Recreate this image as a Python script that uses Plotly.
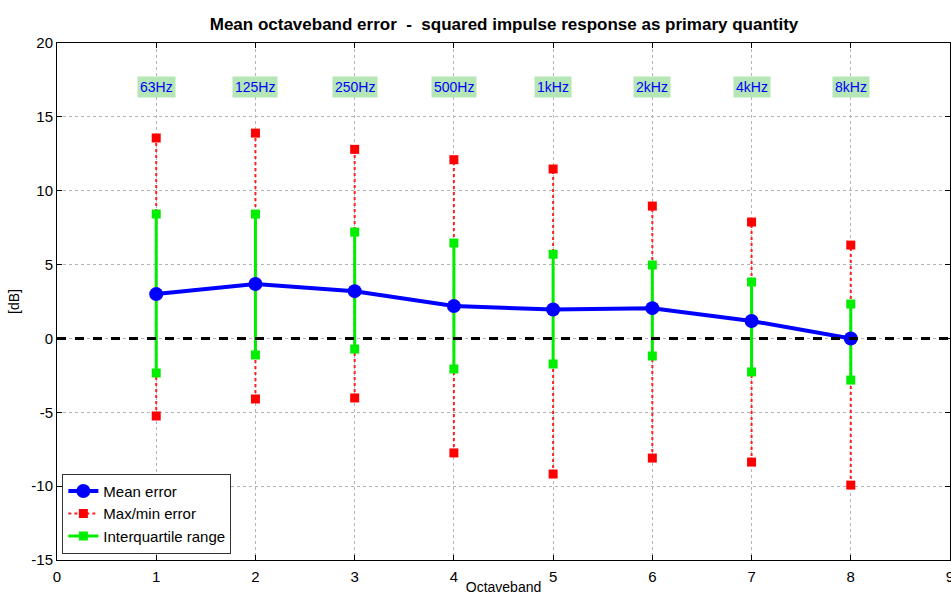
import plotly.graph_objects as go

bands = [1, 2, 3, 4, 5, 6, 7, 8]
band_labels = ["63Hz", "125Hz", "250Hz", "500Hz", "1kHz", "2kHz", "4kHz", "8kHz"]
mean_err = [3.0, 3.68, 3.2, 2.19, 1.96, 2.05, 1.18, 0.0]
max_err = [13.57, 13.9, 12.8, 12.1, 11.47, 8.96, 7.88, 6.32]
min_err = [-5.25, -4.1, -4.03, -7.75, -9.18, -8.1, -8.37, -9.93]
q_upper = [8.42, 8.42, 7.2, 6.46, 5.7, 4.97, 3.82, 2.33]
q_lower = [-2.34, -1.12, -0.72, -2.07, -1.73, -1.19, -2.27, -2.82]

y_ticks = [-15, -10, -5, 0, 5, 10, 15, 20]
x_ticks = [0, 1, 2, 3, 4, 5, 6, 7, 8, 9]

FONT = "Liberation Sans, Arial"


def segments(xs, lo, hi):
    sx, sy = [], []
    for x, a, b in zip(xs, lo, hi):
        sx += [x, x, None]
        sy += [a, b, None]
    return sx, sy


fig = go.Figure()

# zero reference line
fig.add_shape(type="line", xref="x", yref="y", x0=0, x1=9, y0=0, y1=0,
              line=dict(color="black", width=3, dash="dash"), layer="above")

# max/min range, dotted red
rx, ry = segments(bands, min_err, max_err)
fig.add_trace(go.Scatter(
    x=rx, y=ry, mode="lines+markers", name="Max/min error",
    line=dict(color="#ff2020", width=2, dash="dot"),
    marker=dict(symbol="square", size=9, color="#ff0000"),
))

# interquartile range, solid green
gx, gy = segments(bands, q_lower, q_upper)
fig.add_trace(go.Scatter(
    x=gx, y=gy, mode="lines+markers", name="Interquartile range",
    line=dict(color="#00ee00", width=3),
    marker=dict(symbol="square", size=9, color="#00ee00"),
))

# mean error
fig.add_trace(go.Scatter(
    x=bands, y=mean_err, mode="lines+markers", name="Mean error",
    line=dict(color="#0000ff", width=4),
    marker=dict(symbol="circle", size=14, color="#0000ff"),
))

for b, lab in zip(bands, band_labels):
    fig.add_annotation(x=b, y=17.0, text=lab, showarrow=False,
                       font=dict(family=FONT, size=14, color="#0000ff"),
                       bgcolor="#b5e6b5", borderpad=2)

axis_common = dict(
    showline=True, linecolor="black", linewidth=1, mirror="ticks",
    ticks="inside", ticklen=5, tickcolor="black",
    showgrid=True, gridcolor="#b4b4b4", griddash="dot", gridwidth=1,
    zeroline=False, ticklabeloverflow="allow", automargin=False,
    tickfont=dict(family=FONT, size=15, color="black"),
)

fig.update_xaxes(range=[0, 9], tickvals=x_ticks, ticktext=[str(v) for v in x_ticks],
                 ticklabelstandoff=3,
                 title=dict(text="Octaveband", standoff=5,
                            font=dict(family=FONT, size=14, color="black")),
                 **axis_common)
fig.update_yaxes(range=[-15, 20], tickvals=y_ticks, ticktext=[str(v) for v in y_ticks],
                 title=dict(text="[dB]", standoff=8,
                            font=dict(family=FONT, size=14, color="black")),
                 **axis_common)

fig.update_layout(
    width=951, height=595,
    margin=dict(l=57, r=1, t=43, b=35),
    paper_bgcolor="white", plot_bgcolor="white",
    title=dict(text="<b>Mean octaveband error  -  squared impulse response as primary quantity</b>",
               x=0.53, xanchor="center", y=0.96, yanchor="middle",
               font=dict(family=FONT, size=17, color="black")),
    showlegend=True,
    legend=dict(x=0.006, y=0.012, xanchor="left", yanchor="bottom",
                bgcolor="white", bordercolor="#333333", borderwidth=1,
                traceorder="normal",
                font=dict(family=FONT, size=15, color="black"),
                tracegroupgap=0, itemwidth=30),
)

# legend order: mean, max/min, interquartile
fig.data[2].legendrank = 1
fig.data[0].legendrank = 2
fig.data[1].legendrank = 3

fig.write_html("out.html")
